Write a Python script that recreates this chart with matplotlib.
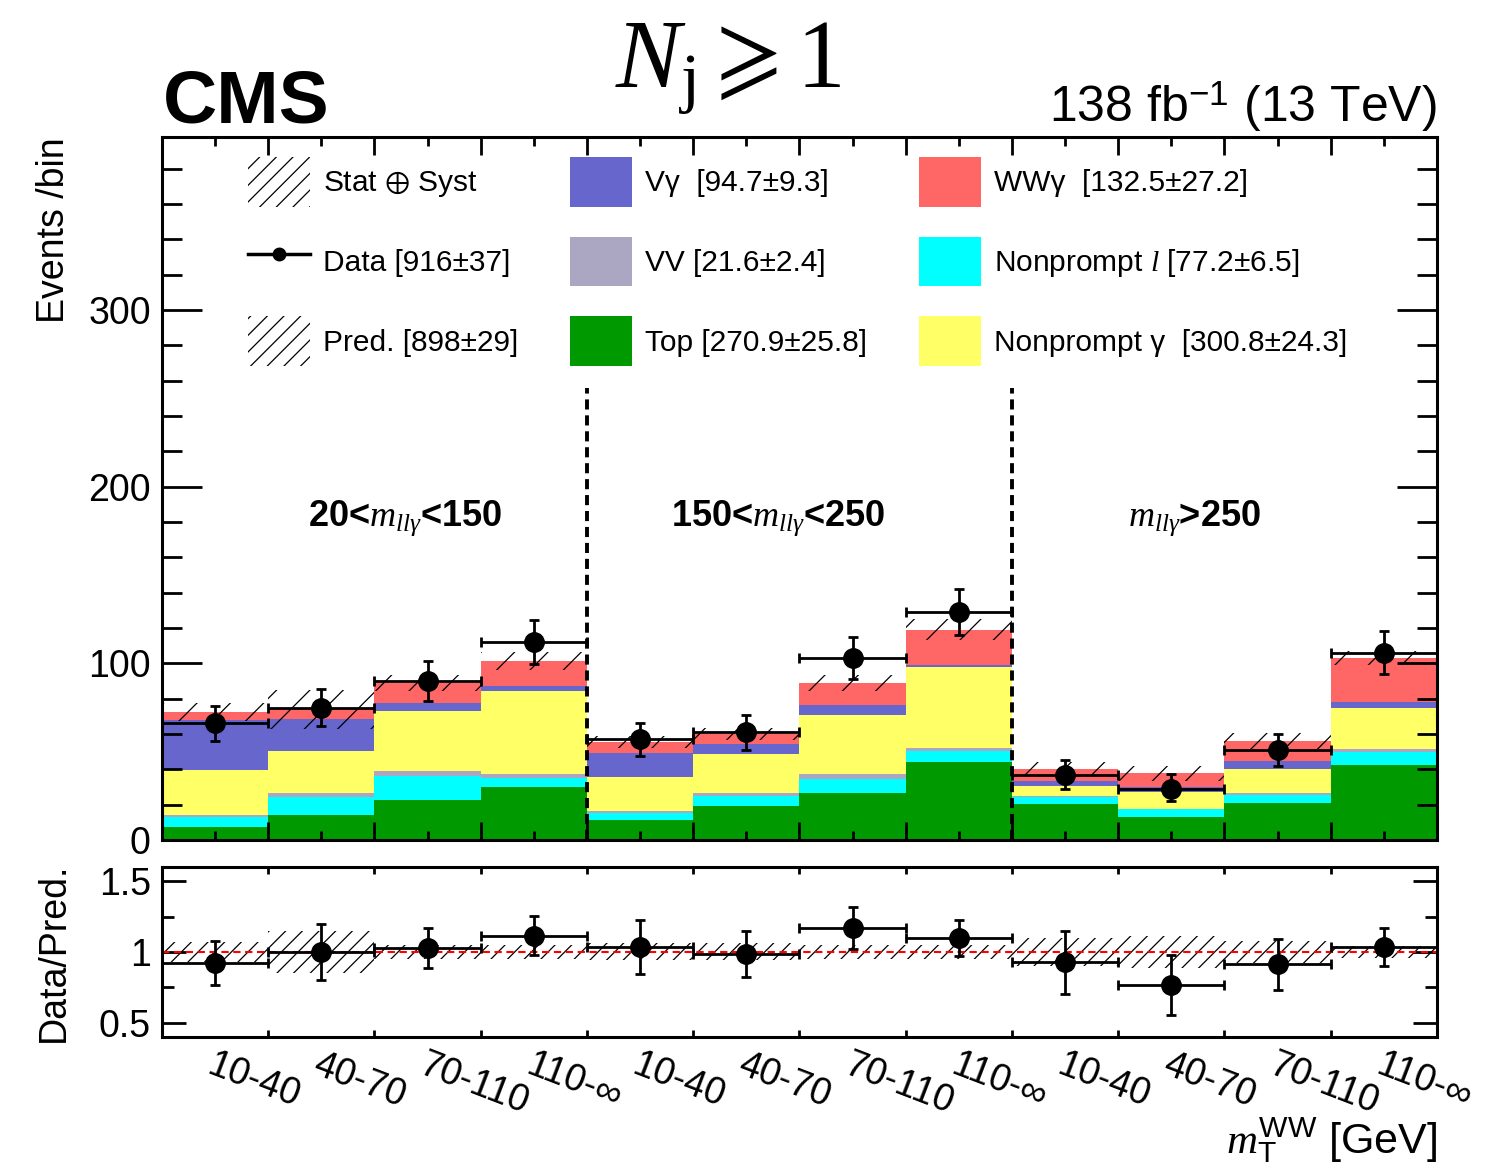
import numpy as np
import matplotlib
matplotlib.use("Agg")
import matplotlib.pyplot as plt
from matplotlib.patches import Patch
from matplotlib.lines import Line2D
from matplotlib.ticker import MultipleLocator, FixedLocator, FormatStrFormatter

plt.rcParams['font.family'] = ['Liberation Sans', 'DejaVu Sans']
plt.rcParams['mathtext.fontset'] = 'custom'
plt.rcParams['mathtext.rm'] = 'Liberation Serif'
plt.rcParams['mathtext.it'] = 'Liberation Serif:italic'
plt.rcParams['mathtext.bf'] = 'Liberation Serif:bold'
plt.rcParams['mathtext.sf'] = 'Liberation Sans'
plt.rcParams['mathtext.fallback'] = 'stix'
plt.rcParams['hatch.linewidth'] = 0.9

# mT(WW) bins, repeated for the three m_llgamma regions
bin_labels = ["10-40", "40-70", "70-110", "110-∞"] * 3
regions = [r"20<$m_{ll\gamma}$<150", r"150<$m_{ll\gamma}$<250", r"$m_{ll\gamma}$>250"]

# stacked backgrounds, bottom to top (events / bin)
top = [7.5, 14.2, 22.6, 30.2, 11.3, 19.3, 26.8, 44.0, 20.4, 12.8, 21.1, 42.5]
nonprompt_l = [5.3, 10.0, 13.8, 4.9, 3.8, 5.6, 7.7, 6.4, 3.8, 4.6, 4.4, 7.5]
vv = [1.5, 2.2, 2.5, 2.3, 1.5, 1.9, 2.9, 1.9, 0.8, 0.3, 1.3, 1.4]
nonprompt_g = [25.3, 23.8, 34.1, 47.0, 19.3, 21.7, 33.6, 45.5, 5.8, 9.7, 13.6, 23.5]
vgamma = [28.4, 18.3, 4.4, 2.6, 13.6, 5.7, 5.4, 1.3, 2.6, 2.8, 4.3, 3.1]
wwgamma = [4.5, 5.5, 11.3, 14.2, 6.2, 5.8, 12.3, 19.8, 6.6, 7.6, 11.2, 25.1]

# relative uncertainty on the prediction (stat + syst)
pred_rel_unc = [0.07, 0.15, 0.05, 0.05, 0.06, 0.06, 0.05, 0.05, 0.10, 0.11, 0.08, 0.04]

# data
data = [66, 75, 90, 112, 57, 61, 103, 129, 37, 29, 51, 106]
data_err_lo = [10.2, 10.4, 11.5, 12.6, 9.4, 9.8, 12.1, 13.2, 7.9, 7.2, 9.2, 12.3]
data_err_hi = [10.0, 10.5, 11.4, 12.5, 9.5, 9.8, 12.1, 13.3, 8.1, 8.5, 9.1, 12.1]

# data / prediction
ratio = [0.92, 1.00, 1.026, 1.116, 1.033, 0.986, 1.168, 1.097, 0.927, 0.768, 0.915, 1.033]
ratio_err = [0.155, 0.20, 0.14, 0.14, 0.19, 0.165, 0.15, 0.128, 0.22, 0.21, 0.18, 0.135]

c_top, c_npl, c_vv = "#009900", "#00ffff", "#aba7c3"
c_npg, c_vg, c_ww = "#ffff66", "#6666cc", "#ff6666"

n = len(data)
edges = np.arange(n + 1)
centers = np.arange(n) + 0.5

fig = plt.figure(figsize=(14.87, 11.74), dpi=100)
ax = fig.add_axes([0.1089, 0.2845, 0.8574, 0.5988])
axr = fig.add_axes([0.1089, 0.1167, 0.8574, 0.1448])

# stacked histogram
base = np.zeros(n)
for vals, col in [(top, c_top), (nonprompt_l, c_npl), (vv, c_vv),
                  (nonprompt_g, c_npg), (vgamma, c_vg), (wwgamma, c_ww)]:
    ax.stairs(base + np.array(vals), edges, baseline=base.copy(), fill=True, color=col, lw=0)
    base = base + np.array(vals)
pred = base

unc = pred * np.array(pred_rel_unc)
ax.bar(edges[:-1], 2 * unc, bottom=pred - unc, width=1, align='edge',
       facecolor='none', edgecolor='k', lw=0, hatch='/')

ax.errorbar(centers, data, yerr=[data_err_lo, data_err_hi], xerr=0.5, fmt='o',
            color='k', ms=14, elinewidth=2, capsize=3.5, capthick=2)

ax.vlines([4, 8], 0, 256, colors='k', linestyles=(0, (2.6, 1.5)), lw=2.8)

for i, txt in enumerate(regions):
    ax.text([2.29, 5.8, 9.72][i], 182, txt, ha='center', va='center',
            fontsize=26, fontweight='bold')

ax.set_xlim(0, 12)
ax.set_ylim(0, 398)
ax.xaxis.set_major_locator(MultipleLocator(1))
ax.xaxis.set_minor_locator(MultipleLocator(0.5))
ax.yaxis.set_major_locator(MultipleLocator(100))
ax.yaxis.set_minor_locator(MultipleLocator(20))
ax.tick_params(which='both', direction='in', top=True, right=True, width=2,
               labelbottom=False, labelsize=27, pad=8)
ax.tick_params(axis='y', which='major', length=29)
ax.tick_params(axis='y', which='minor', length=14.5)
ax.tick_params(axis='x', which='major', length=13)
ax.tick_params(axis='x', which='minor', length=6.5)
ax.set_ylabel("Events /bin", fontsize=27, loc='top')
ax.yaxis.set_label_coords(-0.0706, 1.0)

handles = [
    Patch(facecolor='none', edgecolor='k', hatch='//', lw=0, label=r"Stat $\oplus$ Syst"),
    Line2D([], [], color='k', lw=2.5, marker='o', ms=9, label="Data [916±37]"),
    Patch(facecolor='none', edgecolor='k', hatch='//', lw=0, label="Pred. [898±29]"),
    Patch(facecolor=c_vg, lw=0, label="Vγ  [94.7±9.3]"),
    Patch(facecolor=c_vv, lw=0, label="VV [21.6±2.4]"),
    Patch(facecolor=c_top, lw=0, label="Top [270.9±25.8]"),
    Patch(facecolor=c_ww, lw=0, label="WWγ  [132.5±27.2]"),
    Patch(facecolor=c_npl, lw=0, label=r"Nonprompt $l$ [77.2±6.5]"),
    Patch(facecolor=c_npg, lw=0, label="Nonprompt γ  [300.8±24.3]"),
]
ax.legend(handles=handles, ncol=3, loc='upper left', bbox_to_anchor=(0.0675, 0.9716),
          frameon=False, fontsize=21.5, handlelength=2.07, handleheight=2.19,
          handletextpad=0.43, labelspacing=1.0, columnspacing=1.75,
          borderpad=0, borderaxespad=0)

# ratio panel
axr.bar(edges[:-1], 2 * np.array(pred_rel_unc), bottom=1 - np.array(pred_rel_unc),
        width=1, align='edge', facecolor='none', edgecolor='k', lw=0, hatch='//')
axr.axhline(1, color='red', ls=(0, (3.5, 2.2)), lw=1.5)
axr.errorbar(centers, ratio, yerr=ratio_err, xerr=0.5, fmt='o', color='k', ms=14,
             elinewidth=2, capsize=3.5, capthick=2)
axr.set_xlim(0, 12)
axr.set_ylim(0.4, 1.6)
axr.xaxis.set_major_locator(MultipleLocator(1))
axr.set_xticks(centers, minor=True)
axr.set_xticklabels(bin_labels, minor=True, fontsize=25, rotation=-21,
                    ha='left', va='top', rotation_mode='anchor')
axr.yaxis.set_major_locator(FixedLocator([0.5, 1.0, 1.5]))
axr.yaxis.set_minor_locator(MultipleLocator(0.25))
axr.yaxis.set_major_formatter(FormatStrFormatter('%g'))
axr.tick_params(which='both', direction='in', top=True, right=True, width=2,
                labelsize=27, pad=8)
axr.tick_params(axis='x', which='major', length=5, labelbottom=False)
axr.tick_params(axis='x', which='minor', length=0, pad=7)
axr.tick_params(axis='y', which='major', length=17)
axr.tick_params(axis='y', which='minor', length=8.5)
axr.set_ylabel("Data/Pred.", fontsize=27)
axr.yaxis.set_label_coords(-0.0706, 0.5)
axr.set_xlabel(r"$m_{\mathsf{T}}^{\mathsf{WW}}$ [GeV]", fontsize=31, loc='right')
axr.xaxis.set_label_coords(1.0, -0.46)

for a in (ax, axr):
    for s in a.spines.values():
        s.set_linewidth(2.2)

fig.text(0.1096, 0.896, "CMS", fontsize=54, fontweight='bold', va='baseline')
fig.text(0.9664, 0.896, r"138 fb$^{\mathsf{-1}}$ (13 TeV)", fontsize=36,
         ha='right', va='baseline')
fig.text(0.4896, 0.926, r"$N_{\mathrm{j}} \geqslant 1$", fontsize=70,
         ha='center', va='baseline')

fig.savefig("out.png", dpi=100)
